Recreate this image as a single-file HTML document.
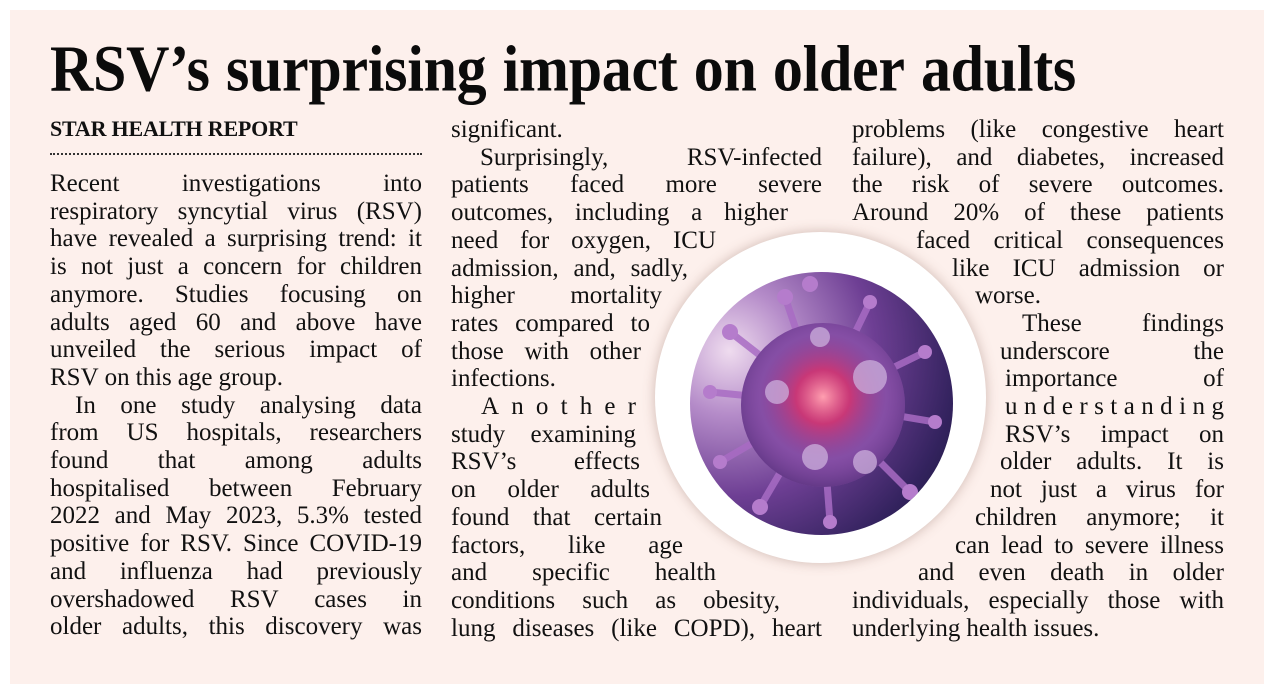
<!DOCTYPE html>
<html><head><meta charset="utf-8">
<style>
html,body{margin:0;padding:0;background:#fff;}
body{width:1274px;height:694px;position:relative;overflow:hidden;font-family:"Liberation Serif",serif;color:#111;}
#panel{position:absolute;left:10px;top:10px;width:1254px;height:674px;background:#fdf0ec;}
#title{position:absolute;left:50px;top:32px;width:1026px;font-weight:bold;font-size:60px;line-height:70px;white-space:nowrap;display:flex;justify-content:space-between;letter-spacing:-0.3px;color:#0b0b0b;transform:scaleY(1.1);transform-origin:0 20px;}
#byline{position:absolute;left:50px;top:116px;font-weight:bold;font-size:22px;line-height:26px;letter-spacing:-0.2px;}
#dots{position:absolute;left:50px;top:153px;width:372px;border-top:2px dotted #333;}
.ln{position:absolute;height:28px;line-height:28px;font-size:25px;white-space:nowrap;display:flex;justify-content:space-between;}
.ln.left{justify-content:flex-start;}
.ln.left span{margin-right:6px;}
#ring{position:absolute;left:655px;top:232px;width:331px;height:331px;border-radius:50%;background:#fff;box-shadow:0 0 12px rgba(120,80,70,0.35);}
#virus{position:absolute;left:690px;top:272px;width:263px;height:263px;border-radius:50%;overflow:hidden;
background:radial-gradient(circle at 15% 30%,#efdcef 0%,#b58cc9 22%,#6e3f94 50%,#34235f 78%,#121431 100%);}
</style></head>
<body>
<div id="panel"></div>
<div id="title"><span>RSV’s</span><span>surprising</span><span>impact</span><span>on</span><span>older</span><span>adults</span></div>
<div id="byline">STAR HEALTH REPORT</div>
<div id="dots"></div>
<div id="ring"></div>
<div id="virus">
<svg width="263" height="263" viewBox="0 0 263 263">
<defs><radialGradient id="g1" cx="0.5" cy="0.45" r="0.55"><stop offset="0" stop-color="#ff9fb0"/><stop offset="0.3" stop-color="#d8306a" stop-opacity="0.8"/><stop offset="0.7" stop-color="#7a3e9a" stop-opacity="0.3"/><stop offset="1" stop-color="#4a2670" stop-opacity="0.6"/></radialGradient></defs>
<g stroke="#a86cc4" stroke-width="7" stroke-linecap="round" opacity="0.85">
<line x1="131" y1="131" x2="40" y2="60"/><line x1="131" y1="131" x2="20" y2="120"/><line x1="131" y1="131" x2="30" y2="190"/>
<line x1="131" y1="131" x2="95" y2="25"/><line x1="131" y1="131" x2="180" y2="30"/><line x1="131" y1="131" x2="235" y2="80"/>
<line x1="131" y1="131" x2="245" y2="150"/><line x1="131" y1="131" x2="220" y2="220"/><line x1="131" y1="131" x2="140" y2="250"/>
<line x1="131" y1="131" x2="70" y2="235"/></g>
<g fill="#b57ccc"><circle cx="40" cy="60" r="8"/><circle cx="20" cy="120" r="7"/><circle cx="30" cy="190" r="7"/><circle cx="95" cy="25" r="8"/><circle cx="180" cy="30" r="7"/><circle cx="235" cy="80" r="7"/><circle cx="245" cy="150" r="7"/><circle cx="220" cy="220" r="8"/><circle cx="140" cy="250" r="7"/><circle cx="70" cy="235" r="8"/><circle cx="120" cy="12" r="8"/></g>
<circle cx="133" cy="133" r="82" fill="#8a55aa"/>
<circle cx="133" cy="133" r="82" fill="url(#g1)"/>
<g fill="#cdb0dd" opacity="0.75"><circle cx="180" cy="105" r="17"/><circle cx="87" cy="120" r="12"/><circle cx="125" cy="185" r="13"/><circle cx="175" cy="190" r="12"/><circle cx="130" cy="65" r="10"/></g>
</svg></div>
<div id="text"></div>
<script>
// [text, left, right, mode] mode: j=justify, l=left, s=letter-spaced
const col1 = [
["Recent investigations into",50,422,"j"],
["respiratory syncytial virus (RSV)",50,422,"j"],
["have revealed a surprising trend: it",50,422,"j"],
["is not just a concern for children",50,422,"j"],
["anymore. Studies focusing on",50,422,"j"],
["adults aged 60 and above have",50,422,"j"],
["unveiled the serious impact of",50,422,"j"],
["RSV on this age group.",50,422,"l"],
["In one study analysing data",75,422,"j"],
["from US hospitals, researchers",50,422,"j"],
["found that among adults",50,422,"j"],
["hospitalised between February",50,422,"j"],
["2022 and May 2023, 5.3% tested",50,422,"j"],
["positive for RSV. Since COVID-19",50,422,"j"],
["and influenza had previously",50,422,"j"],
["overshadowed RSV cases in",50,422,"j"],
["older adults, this discovery was",50,422,"j"]];
const col2 = [
["significant.",451,822,"l"],
["Surprisingly, RSV-infected",480,822,"j"],
["patients faced more severe",451,822,"j"],
["outcomes, including a higher",451,788,"j"],
["need for oxygen, ICU",451,716,"j"],
["admission, and, sadly,",451,688,"j"],
["higher mortality",451,662,"j"],
["rates compared to",451,650,"j"],
["those with other",451,641,"j"],
["infections.",451,641,"l"],
["Another",481,636,"s"],
["study examining",451,636,"j"],
["RSV’s effects",451,640,"j"],
["on older adults",451,650,"j"],
["found that certain",451,662,"j"],
["factors, like age",451,683,"j"],
["and specific health",451,716,"j"],
["conditions such as obesity,",451,780,"j"],
["lung diseases (like COPD), heart",451,822,"j"]];
const col3 = [
["problems (like congestive heart",852,1224,"j"],
["failure), and diabetes, increased",852,1224,"j"],
["the risk of severe outcomes.",852,1224,"j"],
["Around 20% of these patients",852,1224,"j"],
["faced critical consequences",916,1224,"j"],
["like ICU admission or",952,1224,"j"],
["worse.",975,1224,"l"],
["These findings",1022,1224,"j"],
["underscore the",1000,1224,"j"],
["importance of",1005,1224,"j"],
["understanding",1005,1224,"s"],
["RSV’s impact on",1005,1224,"j"],
["older adults. It is",1000,1224,"j"],
["not just a virus for",990,1224,"j"],
["children anymore; it",975,1224,"j"],
["can lead to severe illness",955,1224,"j"],
["and even death in older",918,1224,"j"],
["individuals, especially those with",852,1224,"j"],
["underlying health issues.",852,1224,"l"]];
const pitch = 27.7;
const host = document.getElementById('text');
function draw(lines, firstCenter, colName){
  lines.forEach((L,i)=>{
    const d=document.createElement('div');
    
    
    d.className='ln'+(L[3]==='l'?' left':'');
    d.style.left=L[1]+'px';
    d.style.width=(L[2]-L[1])+'px';
    d.style.top=(firstCenter+i*pitch-14)+'px';
    const parts = L[3]==='s' ? L[0].split('') : L[0].split(' ');
    parts.forEach(p=>{const s=document.createElement('span');s.textContent=p;d.appendChild(s);});
    host.appendChild(d);
  });
}
draw(col1,184,'column-1');
draw(col2,130,'column-2');
draw(col3,130,'column-3');
</script>
</body></html>
